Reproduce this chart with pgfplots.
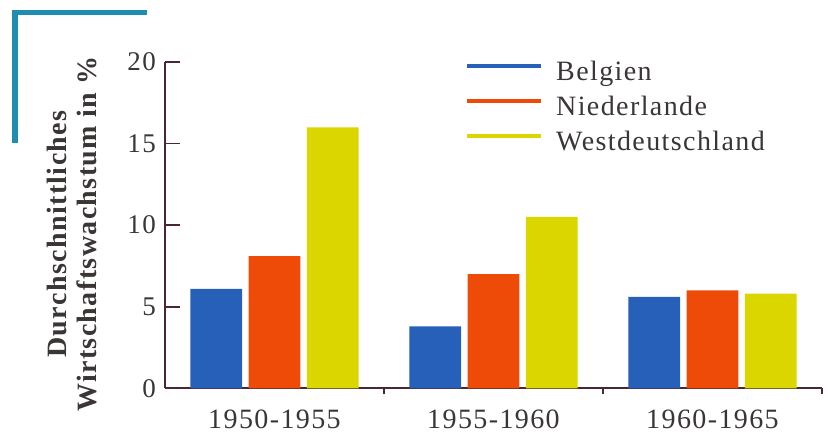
\documentclass[border=0pt]{standalone}
\usepackage{pgfplots}
\pgfplotsset{compat=1.18}
\usepackage{fontspec}
\setmainfont{Liberation Serif}[LetterSpace=5]
\definecolor{cB}{HTML}{2660B8}
\definecolor{cN}{HTML}{EE4A08}
\definecolor{cW}{HTML}{DCD600}
\definecolor{axc}{HTML}{4A2733}
\definecolor{txt}{HTML}{3A3636}
\definecolor{deco}{HTML}{1E8DAF}
\begin{document}
\begin{tikzpicture}
\useasboundingbox (0,0) rectangle (828pt,433pt);
\fill[white] (0,0) rectangle (828pt,433pt);
\fill[deco] (12pt,290pt) rectangle (18pt,423pt);
\fill[deco] (12pt,418pt) rectangle (147pt,423pt);
\begin{axis}[
  at={(165pt,44.7pt)}, anchor=south west,
  scale only axis, width=657pt, height=326.3pt,
  xmin=0, xmax=3, ymin=0, ymax=20,
  axis lines=left,
  axis line style={-, draw=axc, line width=1.8pt},
  tick align=inside,
  major tick length=15pt,
  minor tick length=6pt,
  ytick={0,5,10,15,20},
  ytick style={draw=axc, line width=1.8pt},
  major x tick style={draw=none},
  minor x tick style={draw=axc, line width=1.6pt},
  xtick={0.5,1.5,2.5},
  xticklabels={1950-1955,1955-1960,1960-1965},
  minor xtick={1,2,3},
  /pgf/number format/assume math mode=true,
  yticklabel style={font=\fontsize{27}{30}\selectfont, text=txt, anchor=east, inner sep=0pt, xshift=-9pt},
  xticklabel style={font=\fontsize{28}{30}\selectfont, text=txt, anchor=north, inner sep=0pt, yshift=-6pt},
  ybar, bar width=0.237,
  legend image code/.code={\fill[#1] (0pt,6pt) rectangle (74pt,10pt);},
  legend cell align=left,
  legend style={draw=none, fill=none, at={(0.4597,1.004)}, anchor=north west,
    font=\fontsize{28}{33}\selectfont, text=txt, inner sep=0pt, row sep=8pt,
    nodes={inner sep=0pt, text height=20pt, text depth=7pt},
    /tikz/every odd column/.append style={column sep=15pt}},
]
\addplot[fill=cB, draw=none, bar shift=-0.266] coordinates {(0.5,6.1) (1.5,3.8) (2.5,5.6)};
\addplot[fill=cN, draw=none, bar shift=0] coordinates {(0.5,8.1) (1.5,7.0) (2.5,6.0)};
\addplot[fill=cW, draw=none, bar shift=0.266] coordinates {(0.5,16.0) (1.5,10.5) (2.5,5.8)};
\legend{Belgien,Niederlande,Westdeutschland}
\end{axis}
\node[rotate=90, align=center, font=\bfseries\fontsize{28}{29.5}\selectfont, text=txt] at (72pt,199pt)
  {Durchschnittliches\\Wirtschaftswachstum in \%};
\end{tikzpicture}
\end{document}
